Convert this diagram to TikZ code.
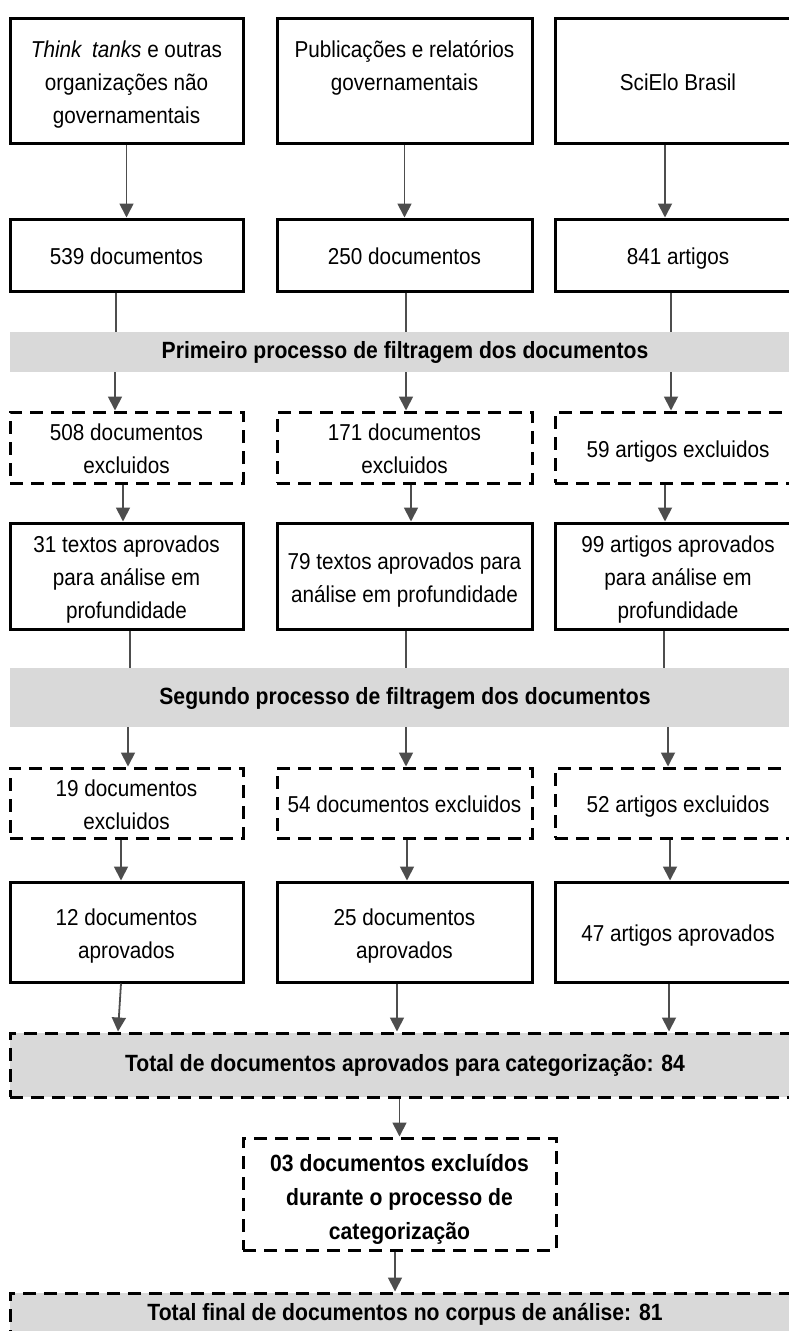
\documentclass[tikz,border=0pt]{standalone}
\usepackage{fontspec}
\setmainfont{Liberation Sans}[FakeStretch=0.9]
\usetikzlibrary{arrows.meta}
\definecolor{barfill}{HTML}{D9D9D9}
\definecolor{linegray}{HTML}{4D4D4D}
\newcommand{\txtfont}{\fontsize{23}{33}\selectfont}
\newcommand{\bftxtfont}{\fontsize{23.5}{34}\selectfont\bfseries}
\newcommand{\rOne}{\rule[-8pt]{0pt}{35pt}}
\newcommand{\rTwo}{\rule[-8pt]{0pt}{68pt}}
\newcommand{\rThree}{\rule[-8pt]{0pt}{101pt}}
\newcommand{\rMid}{\rule[-8pt]{0pt}{106pt}}
\tikzset{
  box/.style={draw, line width=3pt, inner sep=0pt, align=center, font=\txtfont},
  one/.style={execute at begin node=\rOne},
  two/.style={execute at begin node=\rTwo},
  three/.style={execute at begin node=\rThree},
  midtxt/.style={execute at begin node=\rMid, font=\bftxtfont},
  dbox/.style={box, dash pattern=on 13pt off 8pt},
  bar/.style={fill=barfill, inner sep=0pt, align=center, font=\bftxtfont, minimum width=790pt,
    execute at begin node=\strut, execute at end node=\strut},
  dbar/.style={bar, draw, line width=3pt, dash pattern=on 13pt off 8pt},
  ln/.style={draw=linegray, line width=1.8pt},
  arr/.style={ln, -{Triangle[length=14pt,width=14pt]}},
}
\begin{document}
\begin{tikzpicture}[x=1pt,y=-1pt]
\useasboundingbox (0,0) rectangle (789,1331);
\clip (0,0) rectangle (789,1331);
% row 1
\node[box, three, minimum width=233pt, minimum height=125pt] (s1) at (126.5,80.5) {\textit{Think}\, \textit{tanks} e outras\\organizações não\\governamentais};
\node[box, three, minimum width=255pt, minimum height=125pt] (s2) at (404.5,80.5) {Publicações e relatórios\\governamentais\\\mbox{}};
\node[box, one, minimum width=246pt, minimum height=125pt] (s3) at (678,80.5) {SciElo Brasil};
% row 2
\node[box, one, minimum width=233pt, minimum height=72pt] (n1) at (126.5,255) {539 documentos};
\node[box, one, minimum width=255pt, minimum height=72pt] (n2) at (404.5,255) {250 documentos};
\node[box, one, minimum width=246pt, minimum height=72pt] (n3) at (678,255) {841 artigos};
% bar 1
\node[bar, minimum height=40pt] (bar1) at (405,352) {Primeiro processo de filtragem dos documentos};
% row 3
\node[dbox, two, minimum width=233pt, minimum height=71pt] (e1) at (126.5,447.5) {508 documentos\\excluidos};
\node[dbox, two, minimum width=255pt, minimum height=71pt] (e2) at (404.5,447.5) {171 documentos\\excluidos};
\node[dbox, one, minimum width=246pt, minimum height=71pt] (e3) at (678,447.5) {59 artigos excluidos};
% row 4
\node[box, three, minimum width=233pt, minimum height=106pt] (a1) at (126.5,576) {31 textos aprovados\\para análise em\\profundidade};
\node[box, two, minimum width=255pt, minimum height=106pt] (a2) at (404.5,576) {79 textos aprovados para\\análise em profundidade};
\node[box, three, minimum width=246pt, minimum height=106pt] (a3) at (678,576) {99 artigos aprovados\\para análise em\\profundidade};
% bar 2
\node[bar, minimum height=59pt] (bar2) at (405,697.5) {Segundo processo de filtragem dos documentos};
% row 5
\node[dbox, two, minimum width=233pt, minimum height=70pt] (f1) at (126.5,803) {19 documentos\\excluidos};
\node[dbox, one, minimum width=255pt, minimum height=70pt] (f2) at (404.5,803) {54 documentos excluidos};
\node[dbox, one, minimum width=246pt, minimum height=70pt] (f3) at (678,803) {52 artigos excluidos};
% row 6
\node[box, two, minimum width=233pt, minimum height=100pt] (g1) at (126.5,932) {12 documentos\\aprovados};
\node[box, two, minimum width=255pt, minimum height=100pt] (g2) at (404.5,932) {25 documentos\\aprovados};
\node[box, one, minimum width=246pt, minimum height=100pt] (g3) at (678,932) {47 artigos aprovados};
% totals
\node[dbar, minimum height=64pt] (t1) at (405,1065) {Total de documentos aprovados para categorização: 84};
\node[dbox, midtxt, minimum width=313pt, minimum height=112pt] (m) at (399.5,1194) {03 documentos excluídos\\durante o processo de\\categorização};
\node[dbar, minimum height=42pt] (t2) at (405,1314) {Total final de documentos no corpus de análise: 81};
% connectors row1 -> row2
\draw[arr] (s1.south) -- (n1.north);
\draw[arr] (s2.south) -- (n2.north);
\draw[arr] ([xshift=-13pt]s3.south) -- ([xshift=-13pt]n3.north);
% row2 -> bar1
\draw[ln] ([xshift=-10.5pt]n1.south) -- ([xshift=-10.5pt]n1.south |- bar1.north);
\draw[ln] ([xshift=1.5pt]n2.south) -- ([xshift=1.5pt]n2.south |- bar1.north);
\draw[ln] ([xshift=-7pt]n3.south) -- ([xshift=-7pt]n3.south |- bar1.north);
% bar1 -> row3
\draw[arr] ([xshift=-11.5pt]e1.north |- bar1.south) -- ([xshift=-11.5pt]e1.north);
\draw[arr] ([xshift=1.5pt]e2.north |- bar1.south) -- ([xshift=1.5pt]e2.north);
\draw[arr] ([xshift=-7pt]e3.north |- bar1.south) -- ([xshift=-7pt]e3.north);
% row3 -> row4
\draw[arr] ([xshift=-3.5pt]e1.south) -- ([xshift=-3.5pt]a1.north);
\draw[arr] ([xshift=6.5pt]e2.south) -- ([xshift=6.5pt]a2.north);
\draw[arr] ([xshift=-13pt]e3.south) -- ([xshift=-13pt]a3.north);
% row4 -> bar2
\draw[ln] ([xshift=3.5pt]a1.south) -- ([xshift=3.5pt]a1.south |- bar2.north);
\draw[ln] ([xshift=1.5pt]a2.south) -- ([xshift=1.5pt]a2.south |- bar2.north);
\draw[ln] ([xshift=-14pt]a3.south) -- ([xshift=-14pt]a3.south |- bar2.north);
% bar2 -> row5
\draw[arr] ([xshift=1.5pt]f1.north |- bar2.south) -- ([xshift=1.5pt]f1.north);
\draw[arr] ([xshift=1.5pt]f2.north |- bar2.south) -- ([xshift=1.5pt]f2.north);
\draw[arr] ([xshift=-10pt]f3.north |- bar2.south) -- ([xshift=-10pt]f3.north);
% row5 -> row6
\draw[arr] ([xshift=-5.5pt]f1.south) -- ([xshift=-5.5pt]g1.north);
\draw[arr] ([xshift=2.5pt]f2.south) -- ([xshift=2.5pt]g2.north);
\draw[arr] ([xshift=-8pt]f3.south) -- ([xshift=-8pt]g3.north);
% row6 -> total
\draw[arr] ([xshift=-5.5pt]g1.south) -- ([xshift=-8.5pt]g1.south |- t1.north);
\draw[arr] ([xshift=-7.5pt]g2.south) -- ([xshift=-7.5pt]g2.south |- t1.north);
\draw[arr] ([xshift=-9pt]g3.south) -- ([xshift=-9pt]g3.south |- t1.north);
% total -> mid -> final
\draw[arr] (m.north |- t1.south) -- (m.north);
\draw[arr] ([xshift=-4.5pt]m.south) -- ([xshift=-4.5pt]m.south |- t2.north);
\end{tikzpicture}
\end{document}
